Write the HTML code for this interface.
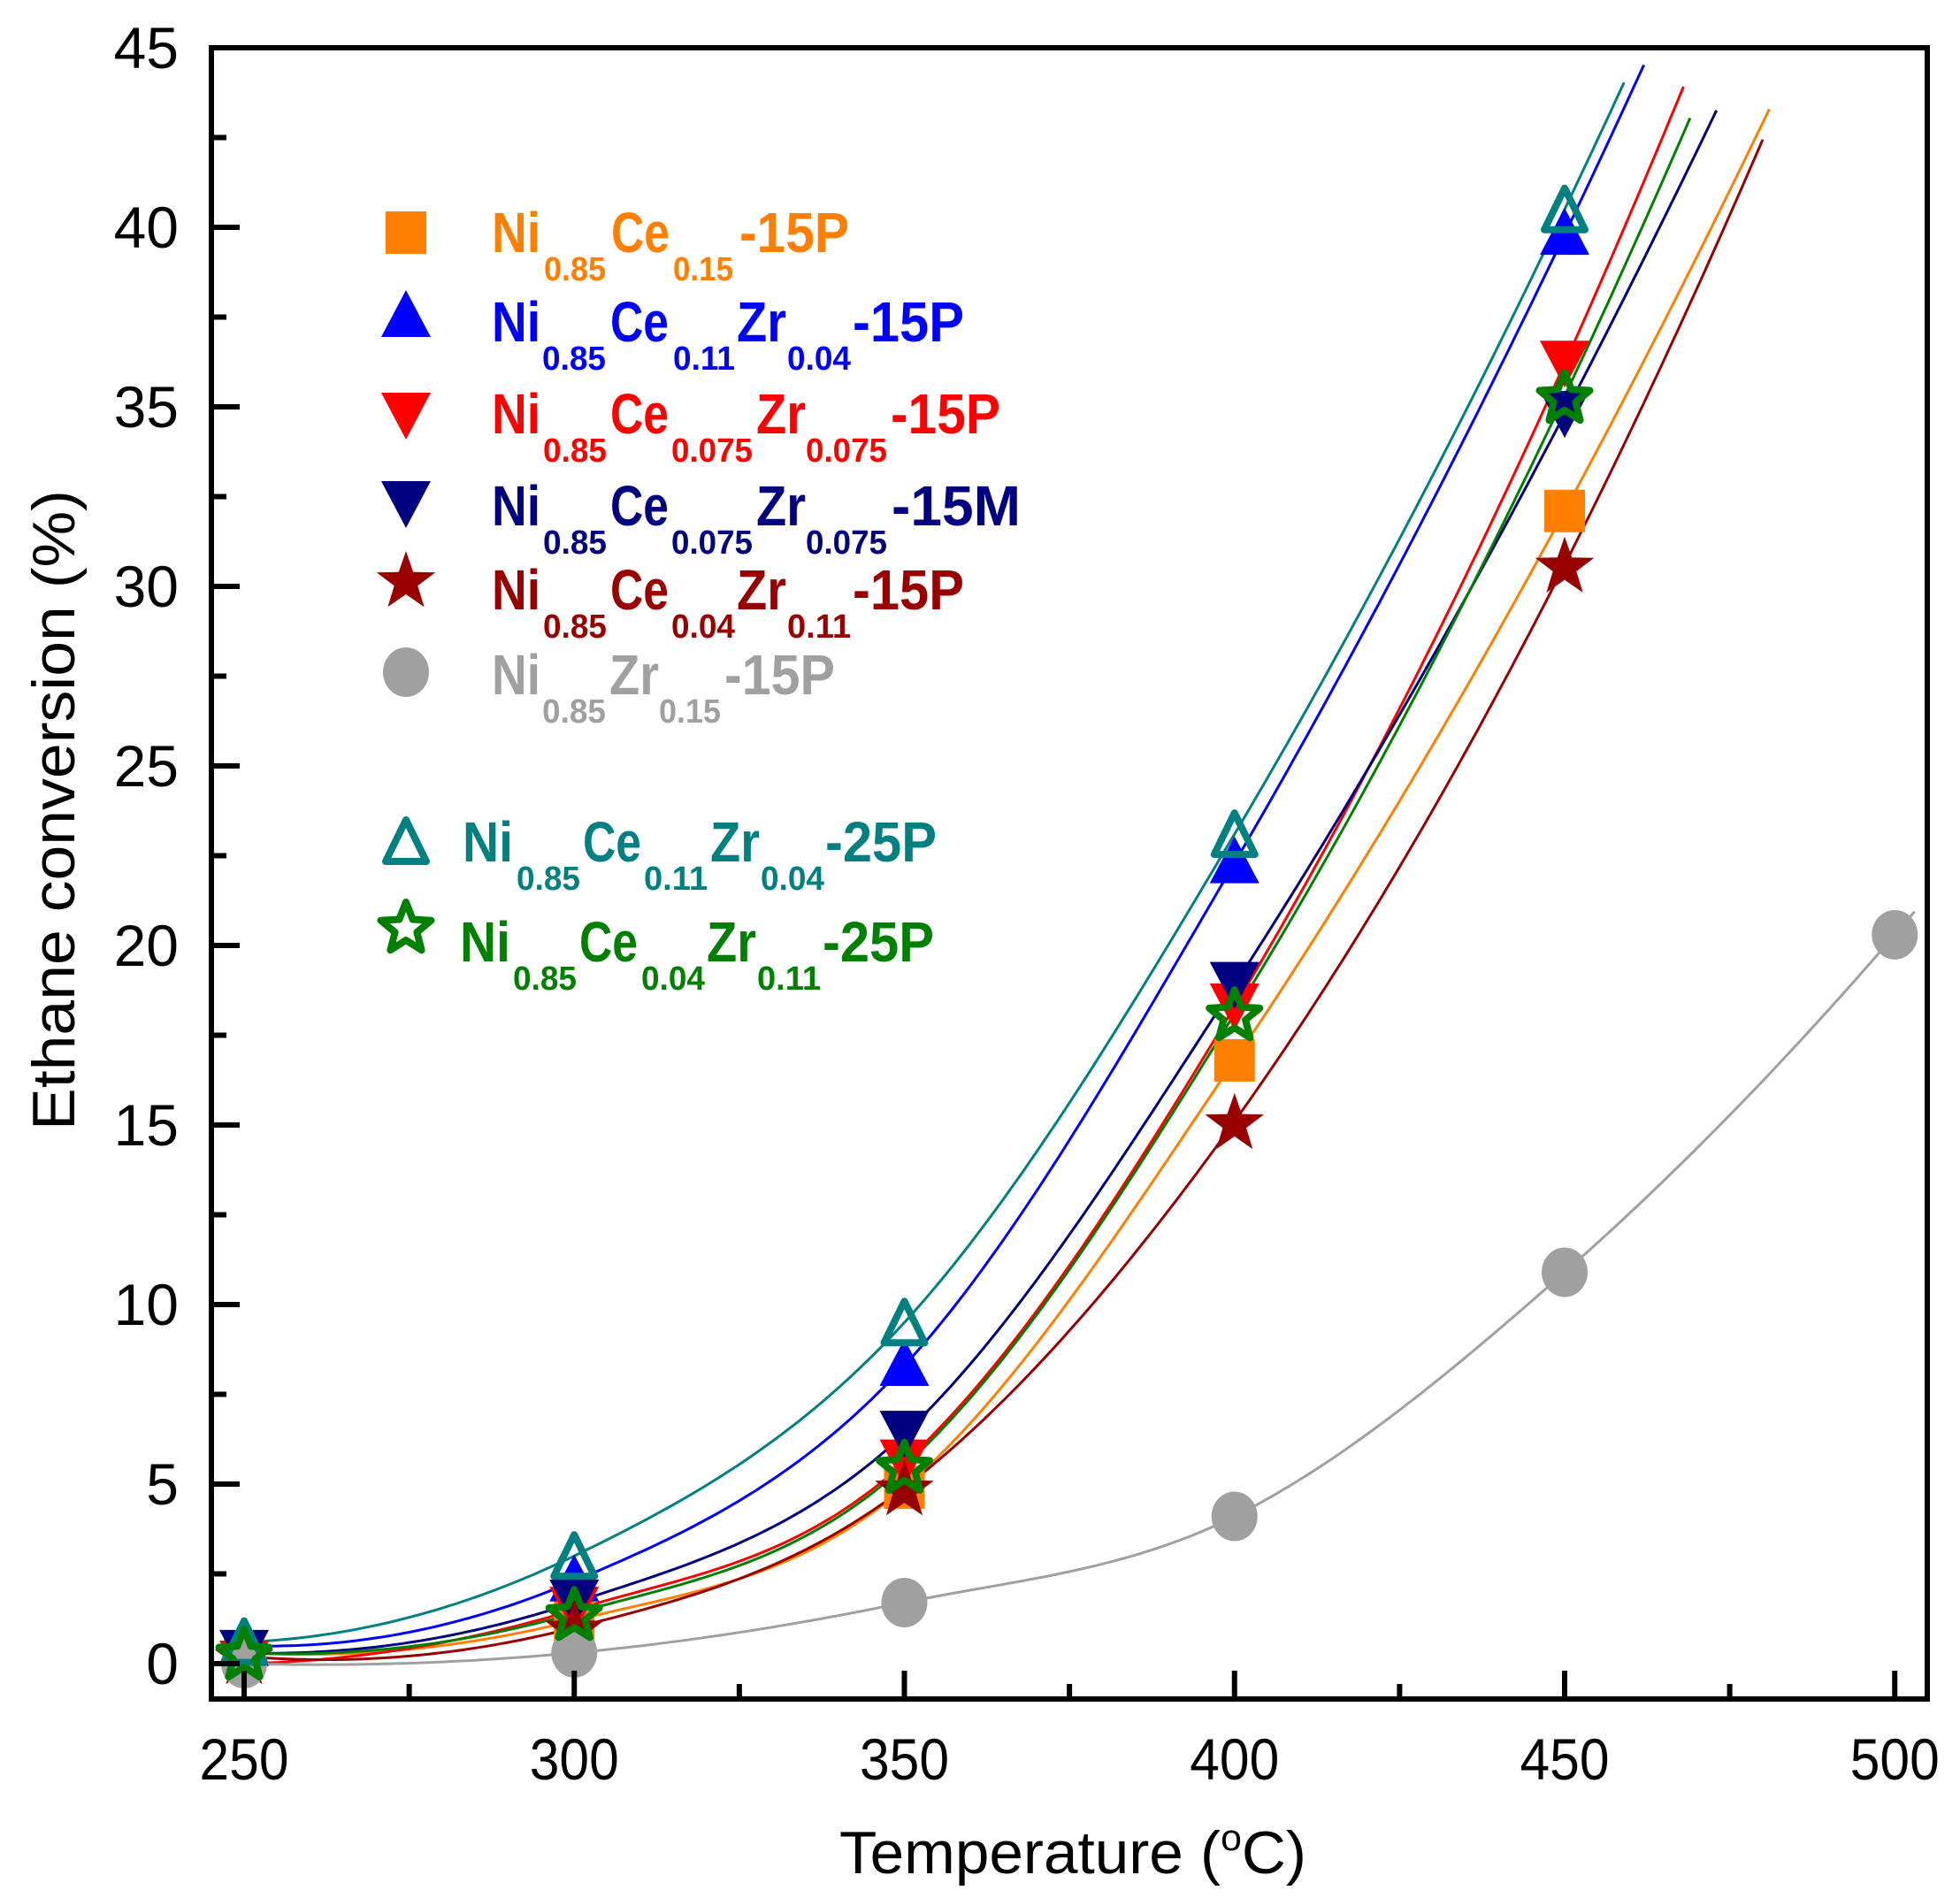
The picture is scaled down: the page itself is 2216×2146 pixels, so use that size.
<!DOCTYPE html>
<html><head><meta charset="utf-8">
<style>html,body{margin:0;padding:0;background:#fff}svg{display:block}</style>
</head><body>
<svg id="s" xmlns="http://www.w3.org/2000/svg" width="2216" height="2146" viewBox="0 0 2216 2146" font-family="'Liberation Sans', sans-serif">
<rect width="2216" height="2146" fill="#fff"/>
<g id="curves" fill="none" stroke-width="3"></g>
<g id="marks"></g>
<g id="axes"></g>
<g id="legend" font-weight="bold"></g>
<text x="1213" y="2118" font-size="68" text-anchor="middle" textLength="528" lengthAdjust="spacingAndGlyphs">Temperature (<tspan font-size="42" dy="-26">o</tspan><tspan dy="26">C)</tspan></text>
<text transform="translate(84,916) rotate(-90)" font-size="68" text-anchor="middle" textLength="724" lengthAdjust="spacingAndGlyphs">Ethane conversion (%)</text>
</svg>
<script>
const NS="http://www.w3.org/2000/svg";
function el(p,t,a,txt){const e=document.createElementNS(NS,t);for(const k in a)e.setAttribute(k,a[k]);if(txt!==undefined)e.textContent=txt;p.appendChild(e);return e;}
const X=T=>276+(T-250)*7.465, Y=v=>1881-v*40.6;
const L=239,R=2179,Tp=54,B=1921;
const ax=document.getElementById('axes');
el(ax,'rect',{x:L,y:Tp,width:R-L,height:B-Tp,fill:'none',stroke:'#000','stroke-width':6});
for(let v=0;v<=45;v+=2.5){const maj=(v%5===0);if(v<45)el(ax,'line',{x1:L,x2:L+(maj?32:17),y1:Y(v),y2:Y(v),stroke:'#000','stroke-width':6});
 if(maj)el(ax,'text',{x:202,y:Y(v)+23,'font-size':66,'text-anchor':'end'},String(v));}
for(let T=250;T<=500;T+=25){const maj=(T%50===0);el(ax,'line',{x1:X(T),x2:X(T),y1:B,y2:B-(maj?32:17),stroke:'#000','stroke-width':6});
 if(maj)el(ax,'text',{x:X(T),y:2012,'font-size':66,'text-anchor':'middle',textLength:101,lengthAdjust:'spacingAndGlyphs'},String(T));}
const series=[
 {c:'#FF8000',m:'sq',d:[[250,0.3],[300,1.2],[350,4.9],[400,16.8],[450,32.1]],end:482,ev:43.0},
 {c:'#0000FF',m:'up',d:[[250,0.5],[300,2.3],[350,8.3],[400,22.3],[450,39.8]],end:463,ev:44.2},
 {c:'#FF0000',m:'dn',d:[[250,0],[300,1.5],[350,5.6],[400,18.3],[450,36.2]],end:470.5,ev:43.6},
 {c:'#000080',m:'dn',d:[[250,0.3],[300,1.7],[350,6.4],[400,18.9],[450,34.8]],end:473,ev:43.2},
 {c:'#990000',m:'star',d:[[250,0.2],[300,1.0],[350,4.9],[400,15.1],[450,30.6]],end:484,ev:42.3},
 {c:'#A0A0A0',m:'ci',d:[[250,0],[300,0.3],[350,1.7],[400,4.1],[450,10.9],[500,20.3]],end:503,ev:21.3},
 {c:'#008080',m:'oup',d:[[250,0.6],[300,3.0],[350,9.5],[400,23.1],[450,40.5]],end:459,ev:44.2},
 {c:'#008000',m:'ostar',d:[[250,0.3],[300,1.4],[350,5.5],[400,18.1],[450,35.3]],end:476,ev:43.0}
];
function curveVal(d,T){
 const n=d.length,y=d.map(p=>p[1]);const t=(T-250)/50;
 const m=[];for(let i=0;i<n;i++){
  if(i===0)m.push((-3*y[0]+4*y[1]-y[2])/2);
  else if(i===n-1)m.push((y[n-3]-4*y[n-2]+3*y[n-1])/2);
  else m.push((y[i+1]-y[i-1])/2);}
 if(t>=n-1){const u=t-(n-1);const a=(y[n-1]-2*y[n-2]+y[n-3])/2;return y[n-1]+m[n-1]*u+a*u*u;}
 let i=Math.floor(t);if(i<0)i=0;const s=t-i;
 const h00=2*s*s*s-3*s*s+1,h10=s*s*s-2*s*s+s,h01=-2*s*s*s+3*s*s,h11=s*s*s-s*s;
 return h00*y[i]+h10*m[i]+h01*y[i+1]+h11*m[i+1];}
function star(cx,cy,ro,ri){let p=[];for(let i=0;i<10;i++){const r=i%2?ri:ro;const a=-Math.PI/2+i*Math.PI/5;p.push((cx+r*Math.cos(a)).toFixed(1)+','+(cy+r*Math.sin(a)).toFixed(1));}return p.join(' ');}
function marker(g,m,c,x,y){
 if(m==='sq')el(g,'rect',{x:x-23,y:y-24,width:46,height:48,fill:c});
 else if(m==='up')el(g,'polygon',{points:`${x},${y-30} ${x+28},${y+23} ${x-28},${y+23}`,fill:c});
 else if(m==='dn')el(g,'polygon',{points:`${x-28},${y-26} ${x+28},${y-26} ${x},${y+27}`,fill:c});
 else if(m==='star')el(g,'polygon',{points:star(x,y+3,35,14),fill:c});
 else if(m==='ci')el(g,'ellipse',{cx:x,cy:y,rx:26,ry:28,fill:c});
 else if(m==='oup')el(g,'polygon',{points:`${x},${y-24} ${x+23},${y+23} ${x-23},${y+23}`,fill:'none',stroke:c,'stroke-width':8,'stroke-linejoin':'round'});
 else if(m==='ostar')el(g,'polygon',{points:star(x,y+3,30,13),fill:'none',stroke:c,'stroke-width':8,'stroke-linejoin':'round'});
}
const cg=document.getElementById('curves'),mg=document.getElementById('marks');
for(const s of series){let d='';
 for(let T=250;T<=s.end+0.01;T+=1){const v=curveVal(s.d,T);d+=(T===250?'M':'L')+X(T).toFixed(1)+','+Y(v).toFixed(1);if(v>=s.ev)break;}
 el(cg,'path',{d:d,stroke:s.c});}
for(const s of series)for(const [T,v] of s.d)marker(mg,s.m,s.c,X(T),Y(v));
const lg=document.getElementById('legend');
const rows=[
 {m:'sq',c:'#FF8000',mx:459,my:263,b:285,parts:[['Ni',556,55],['0.85',615,70,1],['Ce',691,66],['0.15',761,68,1],['-15P',836,124]]},
 {m:'up',c:'#0000FF',mx:459,my:358,b:386,parts:[['Ni',556,55],['0.85',613,72,1],['Ce',690,66],['0.11',761,70,1],['Zr',833,56],['0.04',890,72,1],['-15P',964,126]]},
 {m:'dn',c:'#FF0000',mx:459,my:470,b:490,parts:[['Ni',556,55],['0.85',614,72,1],['Ce',690,66],['0.075',759,92,1],['Zr',855,56],['0.075',911,92,1],['-15P',1007,124]]},
 {m:'dn',c:'#000080',mx:459,my:570,b:594,parts:[['Ni',556,55],['0.85',614,72,1],['Ce',690,66],['0.075',759,92,1],['Zr',855,56],['0.075',911,92,1],['-15M',1008,146]]},
 {m:'star',c:'#990000',mx:459,my:655,b:689,parts:[['Ni',556,55],['0.85',614,72,1],['Ce',690,66],['0.04',759,72,1],['Zr',833,56],['0.11',890,72,1],['-15P',964,126]]},
 {m:'ci',c:'#A0A0A0',mx:459,my:760,b:785,parts:[['Ni',556,55],['0.85',613,72,1],['Zr',689,56],['0.15',745,70,1],['-15P',819,125]]},
 {m:'oup',c:'#008080',mx:459,my:951,b:974,parts:[['Ni',523,57],['0.85',584,72,1],['Ce',659,66],['0.11',728,72,1],['Zr',803,56],['0.04',860,72,1],['-25P',933,126]]},
 {m:'ostar',c:'#008000',mx:459,my:1050,b:1087,parts:[['Ni',520,57],['0.85',580,72,1],['Ce',655,66],['0.04',725,72,1],['Zr',799,56],['0.11',856,72,1],['-25P',930,126]]}
];
for(const r of rows){
 marker(lg,r.m,r.c,r.mx,r.m==='ostar'?r.my-3:r.my);
 for(const [t,x,w,sub] of r.parts){
  el(lg,'text',{x:x,y:sub?r.b+32:r.b,'font-size':sub?38:64,fill:r.c,textLength:w,lengthAdjust:'spacingAndGlyphs'},t);
 }
}
</script>
</body></html>
